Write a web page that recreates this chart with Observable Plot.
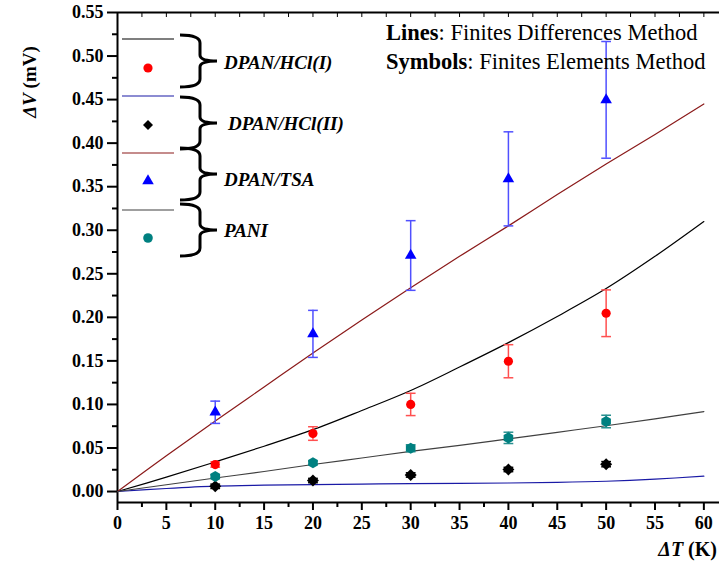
<!DOCTYPE html>
<html><head><meta charset="utf-8">
<script src="https://cdn.jsdelivr.net/npm/d3@7"></script>
<script src="https://cdn.jsdelivr.net/npm/@observablehq/plot@0.6"></script>
<style>body{margin:0;background:#fff} svg{display:block} svg text{font-family:"Liberation Serif","Times New Roman",Times,"DejaVu Serif",serif !important;}</style>
</head><body><div id="chart"></div>
<script>
// ---- data ----
const seriesNames = ["DPAN/HCl(I)", "DPAN/HCl(II)", "DPAN/TSA", "PANI"];
// Finite element (symbols)
const xsFEM = [10, 20, 30, 40, 50];
const femHclI  = [0.031, 0.0666, 0.100, 0.1496, 0.2047];
const errHclI  = [0.003, 0.0078, 0.0128, 0.019, 0.0268];
const femHclII = [0.006, 0.0126, 0.019, 0.0253, 0.0314];
const errHclII = [0.0025, 0.0025, 0.0025, 0.0025, 0.003];
const femTSA   = [0.091, 0.181, 0.271, 0.359, 0.4497];
const errTSA   = [0.0128, 0.027, 0.040, 0.054, 0.067];
const femPANI  = [0.0172, 0.033, 0.0497, 0.0616, 0.0804];
const errPANI  = [0.002, 0.002, 0.004, 0.0065, 0.0072];
// Finite difference (lines)
const xsFDM = [0, 5, 10, 15, 20, 25, 30, 35, 40, 45, 50, 55, 60];
const fdmHclI  = [0, 0.0165, 0.034, 0.052, 0.071, 0.093, 0.116, 0.143, 0.171, 0.201, 0.233, 0.270, 0.310];
const fdmHclII = [0, 0.0035, 0.0062, 0.0073, 0.008, 0.0085, 0.009, 0.0093, 0.0098, 0.0105, 0.0118, 0.0142, 0.0176];
const fdmTSA   = [0, 0.041, 0.081, 0.120, 0.159, 0.197, 0.234, 0.270, 0.305, 0.341, 0.376, 0.410, 0.445];
const fdmPANI  = [0, 0.0078, 0.0155, 0.023, 0.031, 0.0385, 0.046, 0.053, 0.0605, 0.068, 0.0755, 0.0835, 0.0918];
// ticks
const xTicks = [0, 5, 10, 15, 20, 25, 30, 35, 40, 45, 50, 55, 60];
const xMinorTicks = [2.5, 7.5, 12.5, 17.5, 22.5, 27.5, 32.5, 37.5, 42.5, 47.5, 52.5, 57.5];
const yTicks = [0, 0.05, 0.10, 0.15, 0.20, 0.25, 0.30, 0.35, 0.40, 0.45, 0.50, 0.55];
const yMinorTicks = [0.025, 0.075, 0.125, 0.175, 0.225, 0.275, 0.325, 0.375, 0.425, 0.475, 0.525];
const topTicks = [2.5, 5, 7.5, 10, 12.5, 15, 17.5, 20, 22.5, 25, 27.5, 30, 32.5, 35, 37.5, 40, 42.5, 45, 47.5, 50, 52.5, 55, 57.5, 60];

// ---- styles ----
const femSets = [femHclI, femHclII, femTSA, femPANI];
const errSets = [errHclI, errHclII, errTSA, errPANI];
const fdmSets = [fdmHclI, fdmHclII, fdmTSA, fdmPANI];
const lineColors = ["#000000", "#1a1aa6", "#8b1a1a", "#404040"];
const dotColors = ["#ff0000", "#000000", "#0000ff", "#008080"];
const barColors = ["#ff5050", "#000000", "#5050ff", "#2a9090"];
const symbols = ["circle", "diamond2", "triangle", "hexagon"];
const radii = [4.6, 5.4, 4.3, 4.8];

const marks = [];
seriesNames.forEach((s, i) => {
  const line = xsFDM.map((x, j) => ({x, y: fdmSets[i][j]}));
  marks.push(Plot.line(line, {x: "x", y: "y", stroke: lineColors[i], strokeWidth: 1.2, curve: "catmull-rom"}));
});
seriesNames.forEach((s, i) => {
  const pts = xsFEM.map((x, j) => ({x, y: femSets[i][j], e: errSets[i][j]}));
  marks.push(Plot.ruleX(pts, {x: "x", y1: d => d.y - d.e, y2: d => d.y + d.e, stroke: barColors[i], strokeWidth: 1.5}));
  marks.push(Plot.link(pts, {x1: d => d.x - 0.5, x2: d => d.x + 0.5, y1: d => d.y + d.e, y2: d => d.y + d.e, stroke: barColors[i], strokeWidth: 1.5}));
  marks.push(Plot.link(pts, {x1: d => d.x - 0.5, x2: d => d.x + 0.5, y1: d => d.y - d.e, y2: d => d.y - d.e, stroke: barColors[i], strokeWidth: 1.5}));
  marks.push(Plot.dot(pts, {x: "x", y: "y", symbol: symbols[i], r: radii[i], fill: dotColors[i], stroke: "none"}));
});

const ff = "'Liberation Serif', 'Times New Roman', Times, 'DejaVu Serif', serif";
const yMin = -0.0126, yMax = 0.55;
const plot = Plot.plot({
  width: 720, height: 567,
  marginLeft: 117, marginRight: 1, marginTop: 12, marginBottom: 65,
  x: {domain: [0, 61.6], axis: null},
  y: {domain: [yMin, yMax], axis: null},
  style: {fontFamily: ff, background: "white", color: "black"},
  marks: [
    Plot.axisX({ticks: xTicks, tickSize: 8, tickPadding: 6, tickFormat: d => String(d), fontSize: 18, fontWeight: "bold", strokeWidth: 2, label: null}),
    Plot.axisX({ticks: xMinorTicks, tickSize: 5, tickFormat: () => "", strokeWidth: 2, label: null}),
    Plot.axisX({anchor: "top", ticks: topTicks, tickSize: -4, tickFormat: () => "", strokeWidth: 1, label: null}),
    Plot.axisY({ticks: yTicks, tickSize: 10, tickPadding: 4, tickFormat: d3.format(".2f"), fontSize: 18, fontWeight: "bold", strokeWidth: 2, label: null}),
    Plot.axisY({ticks: yMinorTicks, tickSize: 5, tickFormat: () => "", strokeWidth: 2, label: null}),
    Plot.ruleX([0], {strokeWidth: 2}),
    Plot.ruleY([yMin], {strokeWidth: 2}),
    Plot.ruleY([yMax], {strokeWidth: 2}),
    ...marks
  ]
});
document.getElementById("chart").appendChild(plot);

// ---- overlay: legend and annotations ----
const svg = d3.select(plot);
const legendTop = [39, 96, 153, 210];
const legendSym = [68, 125, 181, 238];
const braceTop = [35, 97, 148, 204];
const labelX = [224, 228, 224, 224];
const labelY = [62, 123, 179, 230];
const g = svg.append("g").attr("text-anchor", "start");
seriesNames.forEach((s, i) => {
  g.append("line").attr("x1", 122).attr("x2", 174).attr("y1", legendTop[i]).attr("y2", legendTop[i])
    .attr("stroke", lineColors[i]).attr("stroke-width", 1.2);
  const isDia = symbols[i] === "diamond2";
  const type = {circle: d3.symbolCircle, diamond2: d3.symbolSquare, triangle: d3.symbolTriangle, hexagon: d3.symbolCircle}[symbols[i]];
  const sym = d3.symbol().type(type).size(isDia ? 50 : Math.PI * radii[i] * radii[i]);
  g.append("path").attr("d", sym()).attr("transform", `translate(148,${legendSym[i]})` + (isDia ? " rotate(45)" : "")).attr("fill", dotColors[i]);
  const t = braceTop[i], b = t + 52, m = (t + b) / 2, x0 = 180, x1 = 200, x2 = 217;
  g.append("path").attr("d", `M${x0},${t} Q${x1},${t} ${x1},${t + 8} L${x1},${m - 6} Q${x1},${m} ${x2},${m} Q${x1},${m} ${x1},${m + 6} L${x1},${b - 8} Q${x1},${b} ${x0},${b}`)
    .attr("fill", "none").attr("stroke", "black").attr("stroke-width", 3);
  g.append("text").attr("x", labelX[i]).attr("y", labelY[i]).attr("dy", "0.35em").attr("text-anchor", "start")
    .attr("font-family", ff).attr("font-size", 19).attr("font-weight", "bold").attr("font-style", "italic")
    .text(s);
});
const note = svg.append("g").attr("font-family", ff).attr("font-size", 22.5).attr("text-anchor", "start");
const t1 = note.append("text").attr("x", 386).attr("y", 40);
t1.append("tspan").attr("font-weight", "bold").text("Lines");
t1.append("tspan").text(": Finites Differences Method");
const t2 = note.append("text").attr("x", 386).attr("y", 69);
t2.append("tspan").attr("font-weight", "bold").text("Symbols");
t2.append("tspan").text(": Finites Elements Method");

// axis titles
const yt = svg.append("text").attr("transform", "translate(36,82) rotate(-90)").attr("text-anchor", "middle")
  .attr("font-family", ff).attr("font-size", 19).attr("font-weight", "bold");
yt.append("tspan").attr("font-style", "italic").text("ΔV");
yt.append("tspan").text(" (mV)");
const xt = svg.append("text").attr("x", 717).attr("y", 556).attr("text-anchor", "end")
  .attr("font-family", ff).attr("font-size", 20).attr("font-weight", "bold");
xt.append("tspan").attr("font-style", "italic").text("ΔT");
xt.append("tspan").text(" (K)");
</script></body></html>
